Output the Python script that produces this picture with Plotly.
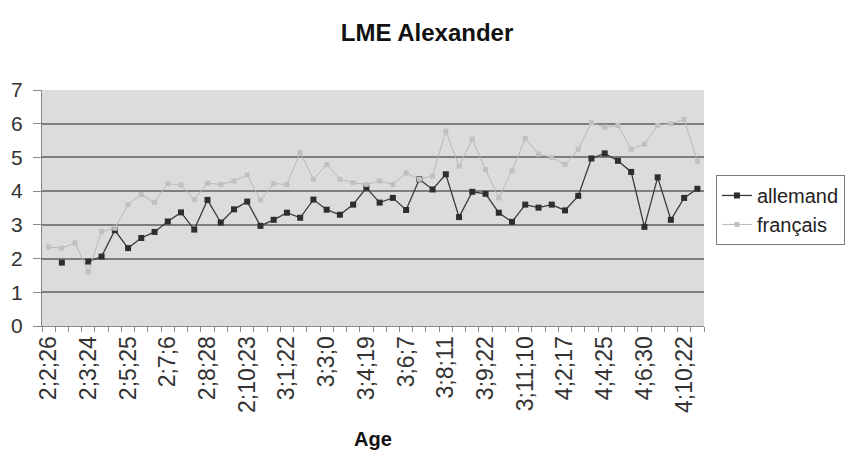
import plotly.graph_objects as go

# Visible category labels (every third category of 50)
tick_labels = ["2;2;26", "2;3;24", "2;5;25", "2;7;6", "2;8;28", "2;10;23", "3;1;22",
               "3;3;0", "3;4;19", "3;6;7", "3;8;11", "3;9;22", "3;11;10", "4;2;17",
               "4;4;25", "4;6;30", "4;10;22"]
n_categories = 50

allemand = [None, 1.88, None, 1.91, 2.06, 2.84, 2.31, 2.61, 2.79, 3.10,
            3.37, 2.86, 3.74, 3.07, 3.46, 3.69, 2.97, 3.15, 3.36, 3.21,
            3.75, 3.45, 3.30, 3.60, 4.10, 3.66, 3.80, 3.44, 4.35, 4.05,
            4.50, 3.23, 3.98, 3.92, 3.36, 3.09, 3.60, 3.51, 3.60, 3.43,
            3.86, 4.97, 5.12, 4.90, 4.57, 2.94, 4.41, 3.15, 3.80, 4.07]

francais = [2.34, 2.31, 2.46, 1.6, 2.8, 2.9, 3.6, 3.9, 3.67, 4.22,
            4.18, 3.75, 4.23, 4.2, 4.3, 4.48, 3.74, 4.22, 4.2, 5.14,
            4.35, 4.79, 4.35, 4.25, 4.2, 4.3, 4.2, 4.54, 4.35, 4.45,
            5.78, 4.74, 5.54, 4.64, 3.8, 4.6, 5.56, 5.1, 5.0, 4.79,
            5.24, 6.03, 5.9, 5.95, 5.24, 5.39, 5.95, 6.0, 6.13, 4.89]

x_idx = list(range(n_categories))
tick_pos = x_idx[::3]

fig = go.Figure()
fig.add_trace(go.Scatter(
    x=x_idx, y=allemand, name="allemand", mode="lines+markers",
    connectgaps=False,
    line=dict(color="#3a3a3a", width=1.3),
    marker=dict(symbol="square", size=6, color="#2e2e2e"),
))
fig.add_trace(go.Scatter(
    x=x_idx, y=francais, name="français", mode="lines+markers",
    line=dict(color="#b8b8b8", width=1),
    marker=dict(symbol="square", size=5, color="#c0c0c0"),
))

font_family = "Liberation Sans, Arial, sans-serif"

fig.update_layout(
    width=854, height=457,
    margin=dict(l=42, r=150, t=90, b=131, autoexpand=False),
    paper_bgcolor="white",
    plot_bgcolor="#dcdcdc",
    font=dict(family=font_family, size=20, color="#222222"),
    title=dict(text="<b>LME Alexander</b>", x=0.5, xanchor="center",
               y=1 - 33 / 457, yanchor="middle",
               font=dict(size=24, color="#111111")),
    showlegend=True,
    legend=dict(x=1.018, y=0.64, xanchor="left", yanchor="top",
                bgcolor="white", bordercolor="#7a7a7a", borderwidth=1,
                font=dict(size=20, color="#222222"),
                tracegroupgap=0, itemwidth=30),
    xaxis=dict(
        range=[-0.5, n_categories - 0.5], automargin=False,
        tickmode="array", tickvals=tick_pos, ticktext=tick_labels,
        tickangle=-90, tickfont=dict(size=23, color="#333333"),
        ticks="", showgrid=False, zeroline=False,
        showline=True, linecolor="#8a8a8a", linewidth=1,
        minor=dict(ticks="outside", tick0=-0.5, dtick=1, ticklen=5,
                   tickcolor="#8a8a8a", showgrid=False),
        title=dict(text="<b>Age</b>", font=dict(size=20, color="#111111"),
                   standoff=20),
    ),
    yaxis=dict(
        range=[0, 7], dtick=1, tick0=0, automargin=False,
        tickfont=dict(size=21, color="#333333"),
        ticks="outside", ticklen=8, tickcolor="#8a8a8a",
        showgrid=True, gridcolor="#7e7e7e", gridwidth=1.5,
        zeroline=False, showline=True, linecolor="#8a8a8a", linewidth=1,
        ticklabelstandoff=6,
    ),
)

fig.write_html("out.html")
